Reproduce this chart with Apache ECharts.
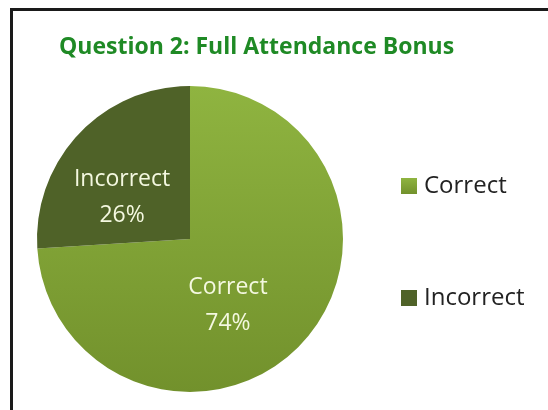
<!DOCTYPE html>
<html>
<head>
<meta charset="utf-8">
<script src="https://cdn.jsdelivr.net/npm/echarts@6/dist/echarts.min.js"></script>
<style>
  html, body { margin: 0; padding: 0; background: #fff; }
  #frame {
    position: absolute; left: 10px; top: 8px; width: 548px; height: 410px;
    border-top: 3px solid #1a1a1a; border-left: 3px solid #1a1a1a;
  }
  #chart { position: absolute; left: 0; top: 0; width: 548px; height: 410px; }
</style>
</head>
<body>
<div id="chart"></div>
<div id="frame"></div>
<script>
const categories = ['Correct', 'Incorrect'];
const values = [74, 26];

const colors = [
  new echarts.graphic.LinearGradient(0, 0, 0, 1, [
    { offset: 0, color: '#8fb440' },
    { offset: 1, color: '#72912c' }
  ]),
  '#4f6228'
];
const labelOffsets = [[-20, 12], [-10, 13]];

const chart = echarts.init(document.getElementById('chart'));
chart.setOption({
  animation: false,
  title: {
    text: 'Question 2: Full Attendance Bonus',
    left: 54,
    top: 31,
    textStyle: { fontFamily: 'Open Sans', fontWeight: 'bold', fontSize: 23, color: '#1f8a25' }
  },
  legend: {
    orient: 'vertical',
    left: 396,
    top: 169,
    itemGap: 88,
    itemWidth: 16,
    itemHeight: 16,
    icon: 'rect',
    data: categories,
    textStyle: { fontFamily: 'Open Sans', fontSize: 24, color: '#222', padding: [0, 0, 0, 2] }
  },
  series: [{
    type: 'pie',
    center: [190, 239],
    radius: 153,
    startAngle: 90,
    clockwise: true,
    label: {
      position: 'inside',
      formatter: '{b}\n{d}%',
      fontFamily: 'Open Sans',
      fontSize: 23,
      lineHeight: 36,
      color: '#f4f8e0'
    },
    labelLine: { show: false },
    data: categories.map((c, i) => ({
      name: c,
      value: values[i],
      itemStyle: { color: colors[i] },
      label: { offset: labelOffsets[i] }
    }))
  }]
});
</script>
</body>
</html>
